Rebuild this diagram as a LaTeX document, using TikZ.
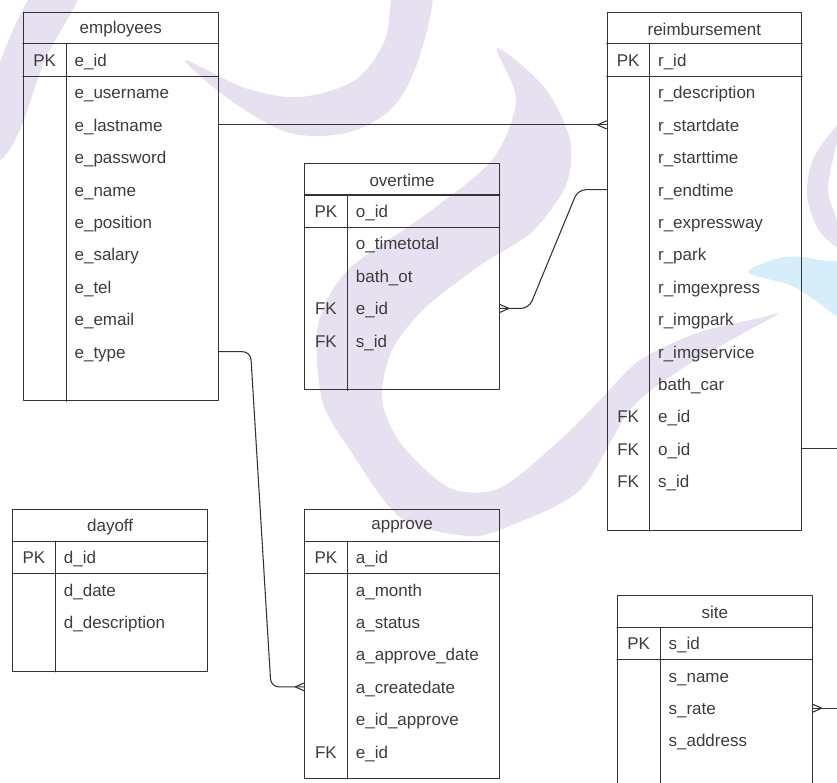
\documentclass[tikz,border=0pt]{standalone}
\usepackage{fontspec}
\setmainfont{Liberation Sans}
\definecolor{ink}{HTML}{333333}
\definecolor{inktext}{HTML}{3C3C3C}
\definecolor{wmlilac}{HTML}{E6E0F1}
\definecolor{wmcyan}{HTML}{D5EEF9}
\begin{document}
\begin{tikzpicture}[x=0.75pt,y=-0.75pt,line join=round,line cap=round,font=\fontsize{12.75}{15}\selectfont]
\tikzset{
  tbl/.style={draw=ink,line width=0.8pt,minimum width=145.9pt,anchor=north west,inner sep=0pt},
  rule/.style={draw=ink,line width=0.8pt},
  cell/.style={anchor=west,inner sep=0pt,text=inktext,text height=0.72em,text depth=0.21em,yshift=-2.2pt},
  keycell/.style={cell,anchor=center},
  title/.style={text=inktext,yshift=-1.3pt},
  link/.style={draw=ink,line width=0.8pt,rounded corners=6pt},
  foot/.style={draw=ink,line width=0.8pt}
}
\useasboundingbox (0,0) rectangle (837,782);
\clip (0,0) rectangle (837,782);
% watermark
\fill[wmlilac] plot[smooth cycle,tension=0.55] coordinates {(35,-10) (80,-10) (45,60) (20,130) (0,160) (-10,140) (-10,90)};
\fill[wmlilac] plot[smooth cycle,tension=0.55] coordinates {(185,60) (230,100) (290,133) (350,132) (395,105) (420,55) (432,-10) (395,-10) (385,40) (355,80) (300,97) (245,88)};
\fill[wmlilac] plot[smooth cycle,tension=0.5] coordinates {(497,48) (516,100) (492,160) (425,215) (348,270) (318,325) (322,400) (350,450) (400,517) (467,536) (507,527) (580,490) (630,410) (680,370) (740,335) (778,314) (760,318) (700,332) (640,360) (600,400) (560,440) (500,488) (450,488) (402,445) (382,400) (392,350) (425,308) (482,264) (532,232) (566,185) (570,140) (545,88)};
\fill[wmlilac] plot[smooth cycle,tension=0.55] coordinates {(845,118) (815,155) (807,195) (820,232) (845,250) (835,215) (828,190) (835,150)};
\fill[wmcyan] plot[smooth cycle,tension=0.55] coordinates {(748,272) (785,257) (820,260) (845,268) (845,318) (815,300) (790,285)};
% tables
\foreach \n/\t/\x/\y/\b/\p in {emp/employees/23/11.5/400.3/e\_id,rmb/reimbursement/606.5/11.5/529.9/r\_id,ovt/overtime/304.3/162.6/389.4/o\_id,day/dayoff/12.3/508.7/670.7/d\_id,apv/approve/304.3/508.7/778/a\_id,site/site/617/594.8/800/s\_id}{
  \node[tbl,minimum height={(\b-\y)*0.75pt}] (\n) at (\x,\y) {};
  \node[title] (\n-title) at ([yshift=-12.15pt]\n.north) {\t};
  \draw[rule] ([yshift=-24.3pt]\n.north west) -- ([yshift=-24.3pt]\n.north east);
  \draw[rule] ([yshift=-48.6pt]\n.north west) -- ([yshift=-48.6pt]\n.north east);
  \draw[rule] ([xshift=32.5pt,yshift=-24.3pt]\n.north west) -- ([xshift=32.5pt]\n.south west);
  \node[keycell] (\n-pkkey) at ([xshift=16.25pt,yshift=-36.45pt]\n.north west) {PK};
  \node[cell] (\n-pk) at ([xshift=38.5pt,yshift=-36.45pt]\n.north west) {\p};
}
\foreach \k/\f [count=\i] in {/e\_username,/e\_lastname,/e\_password,/e\_name,/e\_position,/e\_salary,/e\_tel,/e\_email,/e\_type}{
  \node[keycell] (emp-k\i) at ([xshift=16.25pt,yshift={-60.75pt-(\i-1)*24.3pt}]emp.north west) {\k};
  \node[cell] (emp-\i) at ([xshift=38.5pt,yshift={-60.75pt-(\i-1)*24.3pt}]emp.north west) {\f};
}
\foreach \k/\f [count=\i] in {/r\_description,/r\_startdate,/r\_starttime,/r\_endtime,/r\_expressway,/r\_park,/r\_imgexpress,/r\_imgpark,/r\_imgservice,/bath\_car,FK/e\_id,FK/o\_id,FK/s\_id}{
  \node[keycell] (rmb-k\i) at ([xshift=16.25pt,yshift={-60.75pt-(\i-1)*24.3pt}]rmb.north west) {\k};
  \node[cell] (rmb-\i) at ([xshift=38.5pt,yshift={-60.75pt-(\i-1)*24.3pt}]rmb.north west) {\f};
}
\foreach \k/\f [count=\i] in {/o\_timetotal,/bath\_ot,FK/e\_id,FK/s\_id}{
  \node[keycell] (ovt-k\i) at ([xshift=16.25pt,yshift={-60.75pt-(\i-1)*24.3pt}]ovt.north west) {\k};
  \node[cell] (ovt-\i) at ([xshift=38.5pt,yshift={-60.75pt-(\i-1)*24.3pt}]ovt.north west) {\f};
}
\foreach \k/\f [count=\i] in {/d\_date,/d\_description}{
  \node[keycell] (day-k\i) at ([xshift=16.25pt,yshift={-60.75pt-(\i-1)*24.3pt}]day.north west) {\k};
  \node[cell] (day-\i) at ([xshift=38.5pt,yshift={-60.75pt-(\i-1)*24.3pt}]day.north west) {\f};
}
\foreach \k/\f [count=\i] in {/a\_month,/a\_status,/a\_approve\_date,/a\_createdate,/e\_id\_approve,FK/e\_id}{
  \node[keycell] (apv-k\i) at ([xshift=16.25pt,yshift={-60.75pt-(\i-1)*24.3pt}]apv.north west) {\k};
  \node[cell] (apv-\i) at ([xshift=38.5pt,yshift={-60.75pt-(\i-1)*24.3pt}]apv.north west) {\f};
}
\foreach \k/\f [count=\i] in {/s\_name,/s\_rate,/s\_address}{
  \node[keycell] (site-k\i) at ([xshift=16.25pt,yshift={-60.75pt-(\i-1)*24.3pt}]site.north west) {\k};
  \node[cell] (site-\i) at ([xshift=38.5pt,yshift={-60.75pt-(\i-1)*24.3pt}]site.north west) {\f};
}
% relations
\coordinate (f1) at ([yshift=2.2pt]rmb-2 -| rmb.west);
\draw[link] ([yshift=2.2pt]emp-2 -| emp.east) -- (f1);
\draw[foot] ([xshift=-6.75pt]f1) -- ++(6.75pt,3pt) ([xshift=-6.75pt]f1) -- ++(6.75pt,-3pt);
\coordinate (f2) at ([yshift=2.2pt]ovt-3 -| ovt.east);
\draw[link] (f2) -- ++(21.75pt,0pt) -- ([xshift=-21.4pt,yshift=2.2pt]rmb-4 -| rmb.west) -- ([yshift=2.2pt]rmb-4 -| rmb.west);
\draw[foot] ([xshift=6.75pt]f2) -- ++(-6.75pt,3pt) ([xshift=6.75pt]f2) -- ++(-6.75pt,-3pt);
\coordinate (f3) at ([yshift=2.2pt]apv-4 -| apv.west);
\draw[link] ([yshift=2.2pt]emp-9 -| emp.east) -- ++(24pt,0pt) -- ([xshift=-25pt]f3) -- (f3);
\draw[foot] ([xshift=-6.75pt]f3) -- ++(6.75pt,3pt) ([xshift=-6.75pt]f3) -- ++(6.75pt,-3pt);
\coordinate (rmb-out) at ([xshift=40pt,yshift=2.2pt]rmb-12 -| rmb.east);
\draw[link] ([yshift=2.2pt]rmb-12 -| rmb.east) -- (rmb-out);
\coordinate (f5) at ([yshift=2.2pt]site-2 -| site.east);
\coordinate (site-out) at ([xshift=30pt]f5);
\draw[link] (f5) -- (site-out);
\draw[foot] ([xshift=6.75pt]f5) -- ++(-6.75pt,3pt) ([xshift=6.75pt]f5) -- ++(-6.75pt,-3pt);
\end{tikzpicture}
\end{document}
